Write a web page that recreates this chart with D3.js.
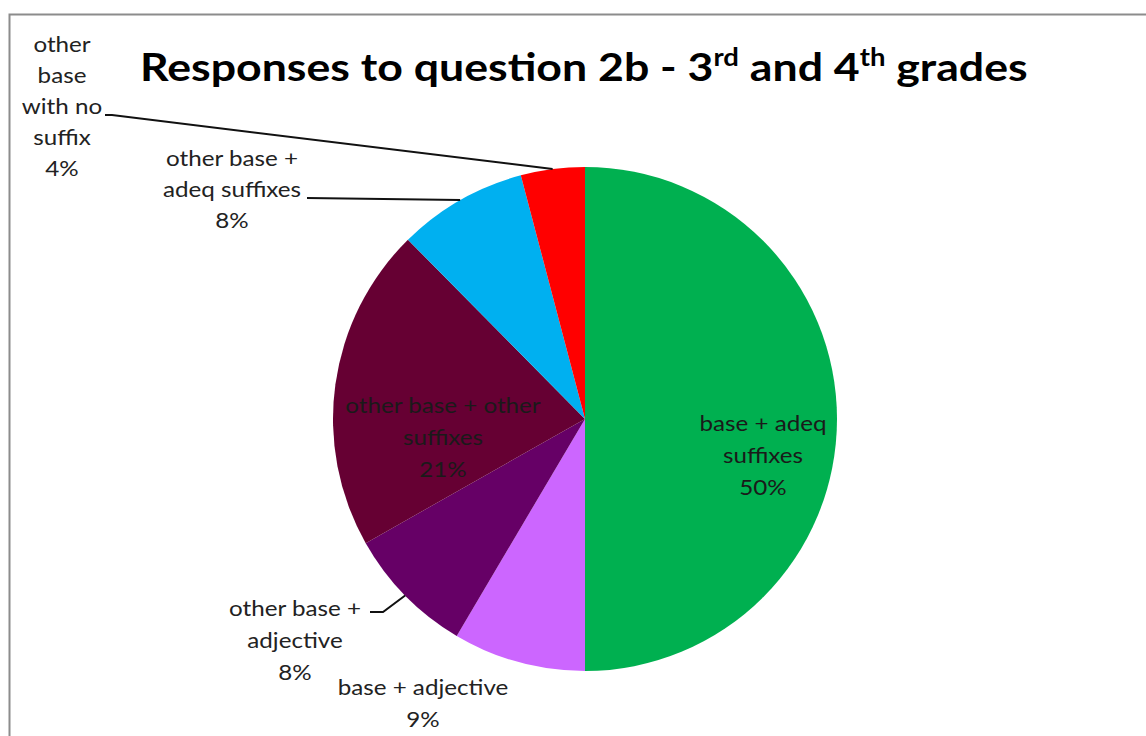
<!DOCTYPE html>
<html><head><meta charset="utf-8">
<script src="https://cdn.jsdelivr.net/npm/d3@7"></script>
<style>body{margin:0;background:#fff}svg{display:block}</style>
</head><body>
<svg id="c" width="1146" height="736"></svg>
<script>
const categories = ["base + adeq suffixes","base + adjective","other base + adjective","other base + other suffixes","other base + adeq suffixes","other base with no suffix"];
const values = [50.0, 8.5, 8.3, 20.8, 8.3, 4.1];
const pctLabels = ["50%","9%","8%","21%","8%","4%"];
const colors = ["#00B050","#CC66FF","#660066","#660033","#00B0F0","#FF0000"];
const labelLines = [
  ["base + adeq","suffixes","50%"],
  ["base + adjective","9%"],
  ["other base +","adjective","8%"],
  ["other base + other","suffixes","21%"],
  ["other base +","adeq suffixes","8%"],
  ["other","base","with no","suffix","4%"]
];

const svg = d3.select("#c");
svg.append("rect").attr("x",9.5).attr("y",14.5).attr("width",1200).attr("height",800)
  .attr("fill","#fff").attr("stroke","#8c8c8c").attr("stroke-width",2);

const cx = 585, cy = 419, R = 252;
const pie = d3.pie().sort(null).value(d=>d)(values);
const arc = d3.arc().innerRadius(0).outerRadius(R);
const g = svg.append("g").attr("transform",`translate(${cx},${cy})`);
g.selectAll("path").data(pie).join("path").attr("d",arc).attr("fill",(d,i)=>colors[i]);

const labelPos = [
  {x:763,y:431,dy:32,inside:true},
  {x:423,y:695,dy:32},
  {x:295,y:616,dy:32},
  {x:443,y:413,dy:32,inside:true},
  {x:232,y:166,dy:31},
  {x:62,y:52,dy:31}
];
const font = "Lato, 'Open Sans', sans-serif";
const sx = 1.18;
labelLines.forEach((lines,i)=>{
  const p = labelPos[i];
  const t = svg.append("text").attr("text-anchor","middle").attr("font-family",font)
    .attr("transform",`translate(${p.x},0) scale(${sx},1)`)
    .attr("font-size",20.5).attr("fill", p.inside ? "#1a1a1a" : "#222");
  lines.forEach((ln,j)=>{
    const s = j===lines.length-1 ? pctLabels[i] : ln;
    t.append("tspan").attr("x",0).attr("y",p.y+j*p.dy).text(s);
  });
});

const outer = d3.arc().innerRadius(R).outerRadius(R);
function mid(i){const c = outer.centroid(pie[i]); return [cx+c[0], cy+c[1]];}
const leaders = [
  {i:5, pts:[[105,115],[112,115]]},
  {i:4, pts:[[307,198]]},
  {i:2, pts:[[370,612],[383,612]]}
];
leaders.forEach(l=>{
  const pts = l.pts.concat([mid(l.i)]);
  svg.append("path").attr("d",d3.line()(pts)).attr("fill","none").attr("stroke","#111").attr("stroke-width",2);
});

const title = svg.append("text").attr("transform","translate(140,81) scale(1.145,1)")
  .attr("font-family","Lato, 'Open Sans', sans-serif")
  .attr("font-weight","bold").attr("font-size",39).attr("fill","#000");
title.append("tspan").attr("x",0).attr("y",0).text("Responses to question 2b - 3");
title.append("tspan").attr("font-size",24).attr("dy",-15).text("rd");
title.append("tspan").attr("dy",15).text(" and 4");
title.append("tspan").attr("font-size",24).attr("dy",-15).text("th");
title.append("tspan").attr("dy",15).text(" grades");
</script>
</body></html>
